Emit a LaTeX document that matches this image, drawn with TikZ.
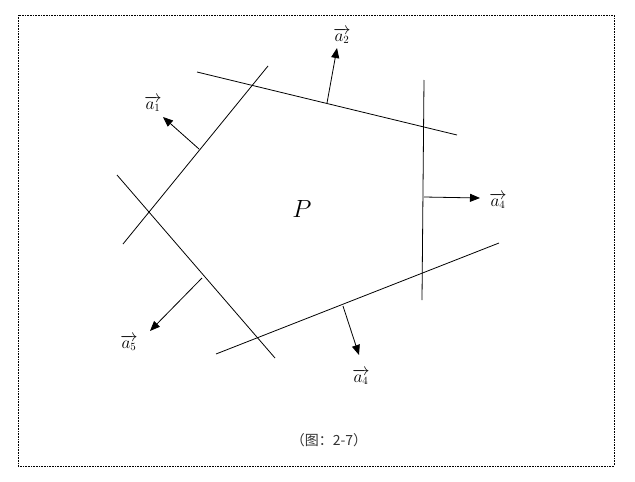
\documentclass[tikz,border=0pt]{standalone}
\usepackage{fontspec}
\newfontfamily\cjk{Noto Sans CJK SC}
\usetikzlibrary{arrows.meta}
\begin{document}
\begin{tikzpicture}[x=1pt,y=-1pt,
  edge/.style={line width=0.8pt},
  normal/.style={line width=0.8pt,-{Triangle[length=10pt,width=8pt]}},
  lbl/.style={inner sep=0pt,font=\fontsize{16}{18}\selectfont}]
\useasboundingbox (0,0) rectangle (635,482);
\draw[densely dotted,line width=0.6pt] (18,15) rectangle (614,466);
% boundary lines
\coordinate (l1a) at (268,66); \coordinate (l1b) at (123,244);
\coordinate (l2a) at (197,72); \coordinate (l2b) at (457,135);
\coordinate (l3a) at (424,80); \coordinate (l3b) at (422,300);
\coordinate (l4a) at (216,354); \coordinate (l4b) at (499,243);
\coordinate (l5a) at (117,175); \coordinate (l5b) at (275,358);
\draw[edge] (l1a) -- (l1b);
\draw[edge] (l2a) -- (l2b);
\draw[edge] (l3a) -- (l3b);
\draw[edge] (l4a) -- (l4b);
\draw[edge] (l5a) -- (l5b);
% normals
\coordinate (n1s) at (199,149); \coordinate (n1e) at (163,117);
\coordinate (n2s) at (327,103); \coordinate (n2e) at (337,48);
\coordinate (n3s) at (424,197); \coordinate (n3e) at (480,198);
\coordinate (n4s) at (343,306); \coordinate (n4e) at (359,355);
\coordinate (n5s) at (202,278); \coordinate (n5e) at (150,331);
\draw[normal] (n1s) -- (n1e);
\draw[normal] (n2s) -- (n2e);
\draw[normal] (n3s) -- (n3e);
\draw[normal] (n4s) -- (n4e);
\draw[normal] (n5s) -- (n5e);
% labels
\node[lbl] (t1) at (153,104) {$\overrightarrow{a_1}$};
\node[lbl] (t2) at (342,36) {$\overrightarrow{a_2}$};
\node[lbl] (t3) at (498,201) {$\overrightarrow{a_4}$};
\node[lbl] (t4) at (361,377) {$\overrightarrow{a_4}$};
\node[lbl] (t5) at (129,343) {$\overrightarrow{a_5}$};
\node[inner sep=0pt,font=\fontsize{24}{26}\selectfont] (P) at (302,209) {$P$};
\node[inner sep=0pt,font=\cjk\fontsize{14}{16}\selectfont,text=black!80] (cap) at (329,440) {（图：2-7）};
\end{tikzpicture}
\end{document}
